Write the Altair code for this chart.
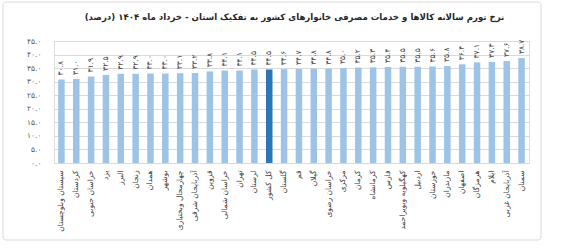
import altair as alt
import pandas as pd

provinces = [
    "سیستان وبلوچستان", "کردستان", "خراسان جنوبی", "یزد", "البرز", "زنجان",
    "همدان", "بوشهر", "چهارمحال وبختیاری", "آذربایجان شرقی", "قزوین",
    "خراسان شمالی", "تهران", "لرستان", "کل کشور", "گلستان", "قم", "گیلان",
    "خراسان رضوی", "مرکزی", "کرمان", "کرمانشاه", "فارس", "کهگیلویه وبویراحمد",
    "اردبیل", "خوزستان", "مازندران", "اصفهان", "هرمزگان", "ایلام",
    "آذربایجان غربی", "سمنان",
]
values = [
    30.8, 31.0, 31.9, 32.5, 32.9, 32.9, 33.0, 33.0, 33.1, 33.2, 33.8,
    34.1, 34.1, 34.5, 34.5, 34.6, 34.7, 34.8, 34.8, 35.0, 35.2, 35.3,
    35.4, 35.5, 35.5, 35.6, 35.8, 36.4, 37.1, 37.3, 37.6, 38.7,
]
y_ticks = [0, 5, 10, 15, 20, 25, 30, 35, 40, 45]
national = "کل کشور"
title_text = "نرخ تورم سالانه کالاها و خدمات مصرفی خانوارهای کشور به تفکیک استان - خرداد ماه ۱۴۰۴ (درصد)"

fa = str.maketrans("0123456789", "۰۱۲۳۴۵۶۷۸۹")
df = pd.DataFrame({
    "province": provinces,
    "value": values,
    "label": [f"{v:.1f}".translate(fa) for v in values],
    "kind": ["national" if p == national else "province" for p in provinces],
})

FONT = "DejaVu Sans"

# Persian-digit y labels
expr = "format(datum.value, '.1f')"
for d, f in zip("0123456789", "۰۱۲۳۴۵۶۷۸۹"):
    expr = f"replace({expr}, regexp('{d}', 'g'), '{f}')"

x = alt.X("province:N", sort=provinces, title=None,
          scale=alt.Scale(paddingInner=0.0, paddingOuter=0.0),
          axis=alt.Axis(labelAngle=270, labelFontSize=7.5, labelFont=FONT,
                        labelColor="#404040", labelPadding=7, ticks=False,
                        domain=True, domainColor="#d9d9d9", labelLimit=200))
y = alt.Y("value:Q", title=None,
          scale=alt.Scale(domain=[0, 45], nice=False, zero=True),
          axis=alt.Axis(values=y_ticks, tickCount=10, labelExpr=expr,
                        labelFontSize=7.5, labelFont=FONT, labelColor="#595959",
                        ticks=False, domain=False, labelPadding=13,
                        labelOverlap=False, gridColor="#d9d9d9", gridWidth=1))

bars = alt.Chart(df).mark_bar(size=6.5).encode(
    x=x, y=y,
    color=alt.Color("kind:N", legend=None,
                    scale=alt.Scale(domain=["province", "national"],
                                    range=["#9DC3E6", "#2E75B6"])),
)

text = alt.Chart(df).mark_text(angle=270, align="left", baseline="middle",
                               dx=4, fontSize=7.5, font=FONT, color="#404040").encode(
    x=x, y=y,
    text="label:N",
)

frame = alt.Chart(alt.Data(values=[{}])).mark_rect(
    filled=False, stroke="#d9d9d9", strokeWidth=1, cornerRadius=3
).encode(
    x=alt.value(-51), x2=alt.value(487), y=alt.value(-39), y2=alt.value(77 + 122)
)

chart = alt.layer(bars, text, frame).properties(
    width=475, height=122,
    padding={"left": 54, "top": 41, "right": 33, "bottom": 88},
    autosize=alt.AutoSizeParams(type="none"),
    title=alt.TitleParams(title_text, fontSize=8.6, fontWeight="bold", font=FONT,
                          color="#262626", anchor="middle", frame="group",
                          offset=-20, limit=700, dx=3),
).configure_view(stroke=None).configure(background="white")

chart.save("out.html", embed_options={"renderer": "svg", "actions": False})
